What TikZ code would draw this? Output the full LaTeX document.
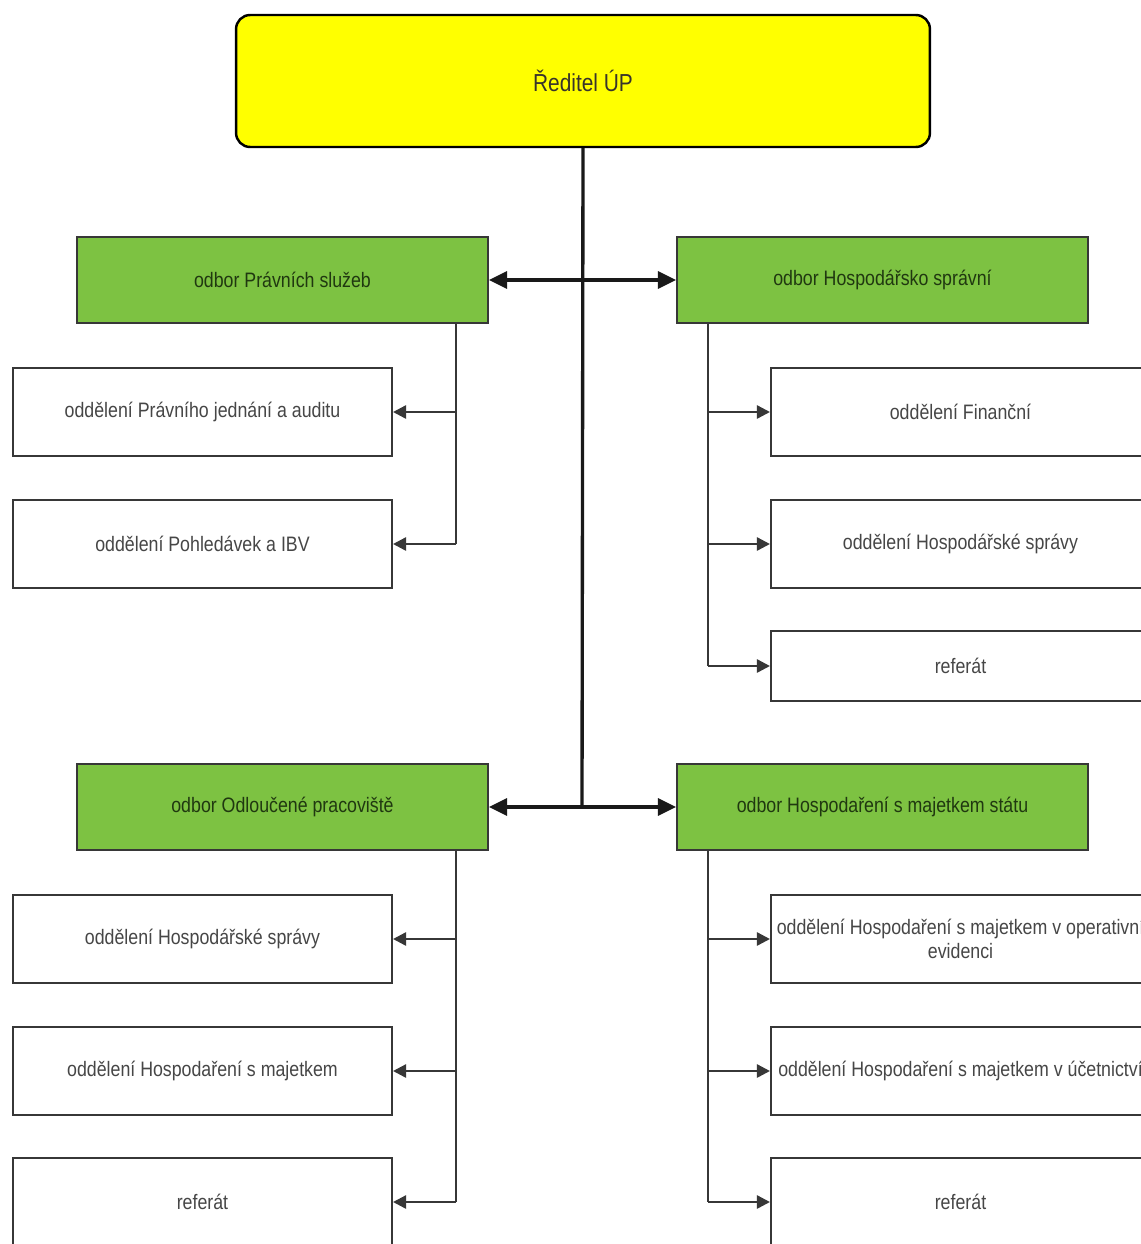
\documentclass[tikz,border=0pt]{standalone}
\usepackage{fontspec}
\setmainfont{Liberation Sans}[FakeStretch=0.85]
\usetikzlibrary{arrows.meta}
\definecolor{boxyellow}{RGB}{255,255,0}
\definecolor{boxgreen}{RGB}{125,194,66}
\definecolor{greentext}{RGB}{32,56,16}
\definecolor{lineedge}{RGB}{55,55,55}
\definecolor{greytext}{RGB}{70,70,70}

\begin{document}
\begin{tikzpicture}[x=0.02cm,y=-0.02cm,
    head/.style={draw=black,line width=1.4pt,fill=boxyellow,rounded corners=8pt,
      minimum width=13.88cm,minimum height=2.64cm,inner sep=0pt,
      text=black!80!olive,font=\fontsize{14}{16}\selectfont},
    odbor/.style={draw=lineedge,line width=1.2pt,fill=boxgreen,
      minimum width=8.22cm,minimum height=1.72cm,inner sep=0pt,
      text=greentext,font=\fontsize{11.9}{14}\selectfont},
    oddel/.style={draw=lineedge,line width=1.2pt,fill=white,
      minimum width=7.58cm,minimum height=1.76cm,inner sep=0pt,align=center,
      text=greytext,font=\fontsize{11.9}{14}\selectfont},
    mainline/.style={draw=black!90,line width=1.9pt},
    twoway/.style={mainline,{Triangle[length=0.36cm,width=0.34cm]}-{Triangle[length=0.36cm,width=0.34cm]}},
    branch/.style={draw=lineedge,line width=1.4pt},
    branchtip/.style={branch,-{Triangle[length=0.26cm,width=0.26cm]}}]

  \useasboundingbox (0,0) rectangle (1141,1244);
  \clip (0,0) rectangle (1141,1244);
  \fill[white] (0,0) rectangle (1141,1244);

  % director
  \node[head] (dir) at (583,81) {Ředitel ÚP};

  % odbory
  \node[odbor] (prav) at (282.5,280) {odbor Právních služeb};
  \node[odbor] (hosp) at (882.5,280) {odbor Hospodářsko správní};
  \node[odbor] (odl)  at (282.5,807) {odbor Odloučené pracoviště};
  \node[odbor] (maj)  at (882.5,807) {odbor Hospodaření s majetkem státu};

  % oddeleni, left side
  \node[oddel] (pj)   at (202.5,412)  {oddělení Právního jednání a auditu};
  \node[oddel] (pohl) at (202.5,544)  {oddělení Pohledávek a IBV};
  \node[oddel] (ohs)  at (202.5,939)  {oddělení Hospodářské správy};
  \node[oddel] (ohm)  at (202.5,1071) {oddělení Hospodaření s majetkem};
  \node[oddel] (refb) at (202.5,1202) {referát};

  % oddeleni, right side
  \node[oddel] (fin)  at (960.5,412)  {oddělení Finanční};
  \node[oddel] (hs)   at (960.5,544)  {oddělení Hospodářské správy};
  \node[oddel,minimum height=1.4cm] (refa) at (960.5,666) {referát};
  \node[oddel] (oev)  at (960.5,939)  {oddělení Hospodaření s majetkem v operativní\\evidenci};
  \node[oddel] (ouc)  at (960.5,1071) {oddělení Hospodaření s majetkem v účetnictví};
  \node[oddel] (refc) at (960.5,1202) {referát};

  % trunk and two-way arrows
  \coordinate (trunk) at (582,807);
  \draw[mainline] (dir.south) -- (trunk);
  \draw[twoway] (prav.east) -- (hosp.west);
  \draw[twoway] (odl.east) -- (maj.west);

  % branches
  \coordinate (lsp) at (456,0);
  \coordinate (rsp) at (708,0);
  \draw[branch] (prav.south -| lsp) -- (pohl.east -| lsp);
  \draw[branch] (odl.south -| lsp) -- (refb.east -| lsp);
  \draw[branch] (hosp.south -| rsp) -- (refa.west -| rsp);
  \draw[branch] (maj.south -| rsp) -- (refc.west -| rsp);
  \foreach \b in {pj,pohl,ohs,ohm,refb}
    \draw[branchtip] (\b.east -| lsp) -- (\b.east);
  \foreach \b in {fin,hs,refa,oev,ouc,refc}
    \draw[branchtip] (\b.west -| rsp) -- (\b.west);
\end{tikzpicture}
\end{document}
